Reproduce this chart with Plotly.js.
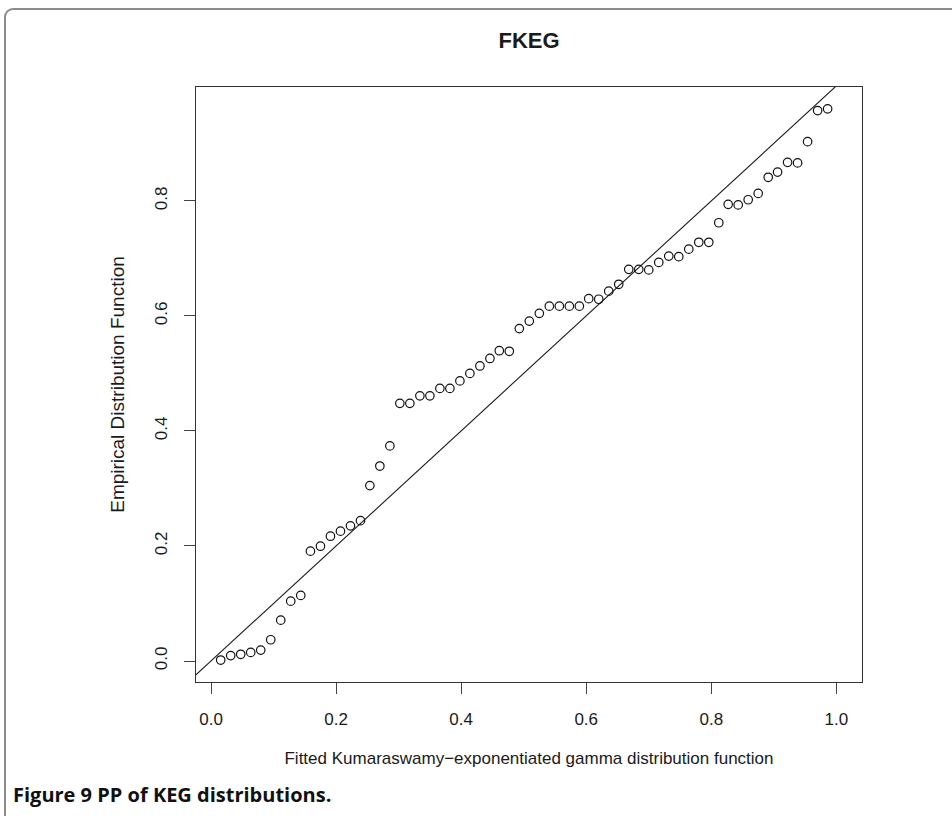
<!DOCTYPE html>
<html>
<head>
<meta charset="utf-8">
<script src="https://cdn.plot.ly/plotly-3.0.1.min.js"></script>
<style>
  html, body { margin: 0; padding: 0; background: #fff; }
  #wrap { position: relative; width: 952px; height: 816px; overflow: hidden; }
  #frame { position: absolute; left: 4px; top: 8px; width: 990px; height: 900px;
           border: 2px solid #8c8c8c; border-radius: 9px; box-sizing: border-box; }
  #chart { position: absolute; left: 0; top: 0; width: 952px; height: 816px; }
</style>
</head>
<body>
<div id="wrap">
  <div id="frame"></div>
  <div id="chart"></div>
</div>
<script>
// Fitted Kumaraswamy-exponentiated gamma distribution function (x)
const fittedCDF = [
  0.0155, 0.0315, 0.0475, 0.0635, 0.0795, 0.0955, 0.1115, 0.1275, 0.1435, 0.159,
  0.175, 0.191, 0.207, 0.223, 0.239, 0.254, 0.270, 0.286, 0.302, 0.318,
  0.334, 0.350, 0.366, 0.382, 0.398, 0.414, 0.430, 0.446, 0.461, 0.477,
  0.493, 0.509, 0.525, 0.541, 0.557, 0.573, 0.589, 0.604, 0.620, 0.636,
  0.652, 0.668, 0.684, 0.700, 0.716, 0.732, 0.748, 0.764, 0.780, 0.796,
  0.812, 0.827, 0.843, 0.859, 0.875, 0.891, 0.906, 0.922, 0.938, 0.954,
  0.970, 0.986
];
// Empirical distribution function (y)
const empiricalCDF = [
  0.0017, 0.0094, 0.0117, 0.015, 0.019, 0.037, 0.071, 0.104, 0.114, 0.191,
  0.1996, 0.217, 0.2257, 0.235, 0.244, 0.305, 0.339, 0.374, 0.448, 0.448,
  0.461, 0.461, 0.474, 0.474, 0.487, 0.500, 0.513, 0.526, 0.5395, 0.5385,
  0.578, 0.591, 0.6045, 0.617, 0.617, 0.617, 0.617, 0.630, 0.629, 0.643,
  0.655, 0.681, 0.681, 0.680, 0.693, 0.704, 0.703, 0.716, 0.728, 0.728,
  0.762, 0.794, 0.793, 0.802, 0.813, 0.841, 0.850, 0.867, 0.866, 0.903,
  0.957, 0.960
];
// Reference line y = x (end points, clipped by the plot area)
const diagonal = [-0.1, 1.1];
const tickVals = [0, 0.2, 0.4, 0.6, 0.8, 1.0];
const tickText = ["0.0", "0.2", "0.4", "0.6", "0.8", "1.0"];

const txtFont = "Liberation Sans, Arial, Helvetica, sans-serif";

const traces = [
  {
    x: diagonal, y: diagonal, type: "scatter", mode: "lines",
    line: { color: "#1a1a1a", width: 1.1 }, hoverinfo: "skip", showlegend: false
  },
  {
    x: fittedCDF, y: empiricalCDF, type: "scatter", mode: "markers",
    marker: { symbol: "circle-open", size: 8.5, color: "#111", line: { width: 1.2, color: "#111" } },
    showlegend: false
  }
];

const layout = {
  width: 952, height: 816,
  paper_bgcolor: "rgba(0,0,0,0)", plot_bgcolor: "#fff",
  margin: { l: 196, r: 90, t: 87, b: 134, pad: 0 },
  showlegend: false,
  title: {
    text: "<b>FKEG</b>",
    font: { family: txtFont, size: 22, color: "#1a1a1a" },
    x: 0.5, xref: "paper", xanchor: "center",
    y: 1 - 40.5 / 816, yref: "container", yanchor: "middle"
  },
  xaxis: {
    range: [-0.024, 1.041], autorange: false,
    tickmode: "array", tickvals: tickVals, ticktext: tickText,
    ticks: "outside", ticklen: 11, tickwidth: 1, tickcolor: "#444",
    showline: true, linecolor: "#333", linewidth: 1, mirror: true,
    showgrid: false, zeroline: false,
    ticklabelstandoff: 11,
    tickfont: { family: txtFont, size: 17, color: "#1a1a1a" },
    title: {
      text: "Fitted Kumaraswamy\u2212exponentiated gamma distribution function",
      font: { family: txtFont, size: 17, color: "#1a1a1a" },
      standoff: 23
    }
  },
  yaxis: {
    range: [-0.0365, 0.998], autorange: false,
    tickmode: "array", tickvals: tickVals.slice(0, 5), ticktext: tickText.slice(0, 5),
    ticks: "outside", ticklen: 11, tickwidth: 1, tickcolor: "#444",
    showline: true, linecolor: "#333", linewidth: 1, mirror: true,
    showgrid: false, zeroline: false,
    tickangle: -90,
    ticklabelstandoff: 10,
    tickfont: { family: txtFont, size: 17, color: "#1a1a1a" },
    title: {
      text: "Empirical Distribution Function",
      font: { family: txtFont, size: 19, color: "#1a1a1a" },
      standoff: 22
    }
  },
  annotations: [
    {
      text: "<b>Figure 9 PP of KEG distributions.</b>",
      xref: "paper", yref: "paper",
      x: (11 - 196) / 666, xanchor: "left",
      y: (682 - 794) / 595, yanchor: "middle",
      showarrow: false,
      font: { family: "Open Sans, Noto Sans, sans-serif", size: 20, color: "#111" }
    }
  ]
};

Plotly.newPlot("chart", traces, layout, { displayModeBar: false, staticPlot: true });
</script>
</body>
</html>
